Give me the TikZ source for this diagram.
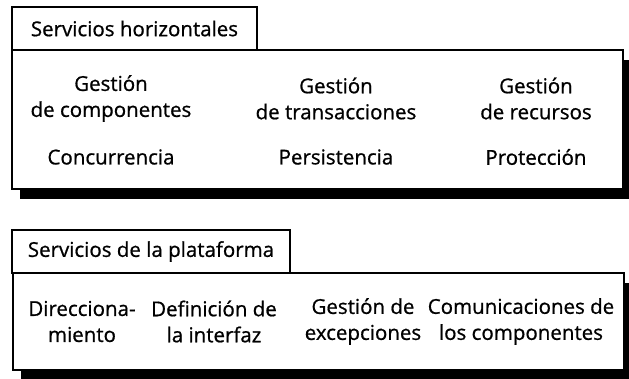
\documentclass[tikz,border=0pt]{standalone}
\usepackage{fontspec}
\setmainfont{Open Sans}[UprightFeatures={FakeBold=0.8}]
\usetikzlibrary{shadows}
\begin{document}
\begin{tikzpicture}[x=1pt, y=-1pt,
  panel/.style={rectangle, draw, line width=2.5pt, fill=white,
                minimum width=611pt, inner sep=0pt,
                drop shadow={shadow xshift=8pt, shadow yshift=-10pt,
                             fill=black, opacity=1}},
  tabbox/.style={rectangle, draw, line width=2.5pt, fill=white,
                 minimum height=43pt, inner sep=0pt,
                 font=\fontsize{20.5}{24}\selectfont},
  item/.style={font=\fontsize{20.5}{26}\selectfont, align=center}
]
\useasboundingbox (0,0) rectangle (629,379);
% servicios horizontales
\node[panel, minimum height=139pt] (horiz) at (317.5,119.5) {};
\node[tabbox, minimum width=245pt] (horiztab) at (134.5,28.5) {Servicios horizontales};
\node[item] (compon) at (111,98.5) {Gestión\\de componentes};
\node[item] (trans) at (336,98.5) {Gestión\\de transacciones};
\node[item] (recur) at (536,98.5) {Gestión\\de recursos};
\node[item] (concur) at (111,157) {Concurrencia};
\node[item] (persis) at (336,157) {Persistencia};
\node[item] (protec) at (536,157) {Protección};
% servicios de la plataforma
\node[panel, minimum height=97pt] (plat) at (318.5,321.5) {};
\node[tabbox, minimum width=278pt] (plattab) at (151,251.5) {Servicios de la plataforma};
\node[item] (direc) at (82,321.5) {Direcciona-\\miento};
\node[item] (interf) at (214,321.5) {Definición de\\la interfaz};
\node[item] (excep) at (363,321.5) {Gestión de\\excepciones};
\node[item] (comun) at (521,321.5) {Comunicaciones de\\los componentes};
\end{tikzpicture}
\end{document}
